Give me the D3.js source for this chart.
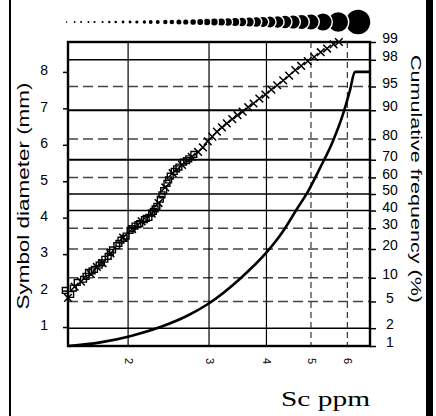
<!DOCTYPE html>
<html>
<head>
<meta charset="utf-8">
<script src="https://cdn.jsdelivr.net/npm/d3@7"></script>
<style>
  body { margin: 0; background: #fff; }
  svg { display: block; }
</style>
</head>
<body>
<svg width="436" height="416"></svg>
<script>
//--Data
// x axis (Sc ppm, log) and the two y axes
var scTicks = [2, 3, 4, 5, 6];
var diamTicks = [1, 2, 3, 4, 5, 6, 7, 8];
var cumTicks = [1, 2, 5, 10, 20, 30, 40, 50, 60, 70, 80, 90, 95, 98, 99];

// cumulative frequency plot, square markers
var scSquares = [1.46, 1.50, 1.52, 1.55, 1.60, 1.62, 1.64, 1.67, 1.69, 1.73, 1.75, 1.78, 1.81, 1.83, 1.85,
  1.89, 1.91, 1.93, 1.96, 1.98, 2.02, 2.04, 2.07, 2.10, 2.12, 2.17, 2.19, 2.22, 2.25, 2.27,
  2.29, 2.31, 2.35, 2.37, 2.39, 2.43, 2.45, 2.47, 2.52, 2.55, 2.58, 2.64, 2.68, 2.71, 2.78];
var cumSquares = [7.0, 6.2, 7.5, 8.8, 9.6, 10.4, 11.5, 12.0, 12.4, 13.8, 14.6, 15.9, 17.0, 18.6, 19.6,
  21.5, 22.5, 24.0, 24.8, 26.0, 28.9, 29.8, 31.2, 32.0, 32.5, 34.8, 35.5, 36.0, 38.5, 39.5,
  41.0, 42.5, 46.8, 49.5, 52.0, 56.5, 58.5, 60.8, 63.5, 65.0, 66.0, 68.7, 69.5, 70.5, 72.8];

// cumulative frequency plot, cross markers
var scCrosses = [1.48, 1.53, 1.58, 1.66, 1.71, 1.76, 1.83, 1.95, 2.04, 2.14, 2.25, 2.33, 2.41, 2.50, 2.62,
  2.75, 2.84, 2.91, 2.98, 3.05, 3.12, 3.20, 3.28, 3.37, 3.46, 3.55, 3.65, 3.75, 3.86, 3.98,
  4.10, 4.22, 4.35, 4.48, 4.62, 4.76, 4.92, 5.08, 5.25, 5.42, 5.60, 5.75];
var cumCrosses = [5.6, 7.8, 9.0, 11.0, 13.2, 14.5, 18.2, 25.2, 29.5, 33.8, 38.2, 44.5, 54.0, 62.5, 67.2,
  71.5, 74.0, 76.2, 79.0, 81.0, 83.0, 84.6, 86.0, 87.4, 88.6, 89.6, 90.8, 91.7, 92.8, 93.6,
  94.5, 95.2, 95.9, 96.5, 97.1, 97.5, 97.9, 98.2, 98.5, 98.7, 98.9, 99.0];

// symbol diameter function (left axis)
var curveSc = [1.48, 1.74, 2.02, 2.35, 2.69, 2.99, 3.50, 4.01, 4.32, 4.66, 4.93, 5.23, 5.58, 5.87, 6.08, 6.23, 6.72];
var curveDiam = [0.48, 0.58, 0.75, 1.00, 1.31, 1.64, 2.32, 3.06, 3.58, 4.24, 4.73, 5.36, 6.10, 6.84, 7.50, 8.0, 8.0];

// symbol size key along the top
var keySc = [1.47, 1.53, 1.58, 1.64, 1.69, 1.76, 1.82, 1.88, 1.95, 2.02, 2.09, 2.17, 2.24, 2.32, 2.41,
  2.49, 2.58, 2.67, 2.77, 2.87, 2.97, 3.08, 3.19, 3.30, 3.42, 3.54, 3.67, 3.80, 3.93, 4.07,
  4.23, 4.39, 4.57, 4.77, 5.00, 5.31, 5.73, 6.33];
var keyDiam = [0.52, 0.59, 0.66, 0.66, 0.72, 0.72, 0.79, 0.85, 0.92, 0.98, 1.05, 1.11, 1.25, 1.31, 1.44,
  1.51, 1.64, 1.70, 1.84, 1.97, 2.10, 2.23, 2.36, 2.49, 2.62, 2.75, 2.95, 3.15, 3.34, 3.54,
  3.80, 4.07, 4.33, 4.59, 4.98, 5.64, 6.43, 8.0];

//--Helpers
// inverse normal cdf (Acklam), for the probability axis
function probit(p) {
  var a = [-3.969683028665376e+01, 2.209460984245205e+02, -2.759285104469687e+02, 1.383577518672690e+02, -3.066479806614716e+01, 2.506628277459239e+00];
  var b = [-5.447609879822406e+01, 1.615858368580409e+02, -1.556989798598866e+02, 6.680131188771972e+01, -1.328068155288572e+01];
  var c = [-7.784894002430293e-03, -3.223964580411365e-01, -2.400758277161838e+00, -2.549732539343734e+00, 4.374664141464968e+00, 2.938163982698783e+00];
  var d = [7.784695709041462e-03, 3.224671290700398e-01, 2.445134137142996e+00, 3.754408661907416e+00];
  var pl = 0.02425, q, r;
  if (p < pl) {
    q = Math.sqrt(-2 * Math.log(p));
    return (((((c[0] * q + c[1]) * q + c[2]) * q + c[3]) * q + c[4]) * q + c[5]) / ((((d[0] * q + d[1]) * q + d[2]) * q + d[3]) * q + 1);
  }
  if (p > 1 - pl) {
    q = Math.sqrt(-2 * Math.log(1 - p));
    return -(((((c[0] * q + c[1]) * q + c[2]) * q + c[3]) * q + c[4]) * q + c[5]) / ((((d[0] * q + d[1]) * q + d[2]) * q + d[3]) * q + 1);
  }
  q = p - 0.5; r = q * q;
  return (((((a[0] * r + a[1]) * r + a[2]) * r + a[3]) * r + a[4]) * r + a[5]) * q / (((((b[0] * r + b[1]) * r + b[2]) * r + b[3]) * r + b[4]) * r + 1);
}

//--Layout and scales
var frame = { left: 68, right: 370, top: 42, bottom: 346 };

var x = d3.scaleLog().domain([1.48, 6.72]).range([frame.left, frame.right]);
var yDiam = d3.scaleLinear().domain([0.48, 8.82]).range([frame.bottom, frame.top]);
var yZ = d3.scaleLinear().domain([probit(0.01), probit(0.99)]).range([frame.bottom, frame.top]);
var yCum = p => yZ(probit(p / 100));
var keyR = d3.scaleLinear().domain([0, 8]).range([0, 12.2]);

var solidCum = new Set([98, 90, 70, 50, 40, 2]);
var solidSc = new Set([2, 3, 4]);

var root = d3.select("svg");

// scan borders
root.append("line")
  .attr("x1", 10).attr("x2", 10).attr("y1", 0).attr("y2", 416)
  .attr("stroke", "#000").attr("stroke-width", 2);
root.append("rect")
  .attr("x", 426).attr("y", 0).attr("width", 7).attr("height", 416)
  .attr("fill", "#000");

//--Grid
var grid = root.append("g").classed("grid", true);
grid.selectAll("line.h")
  .data(cumTicks.filter(p => p > 1 && p < 99))
  .enter()
  .append("line")
  .classed("h", true)
  .attr("x1", frame.left)
  .attr("x2", frame.right)
  .attr("y1", d => yCum(d))
  .attr("y2", d => yCum(d))
  .attr("stroke", d => solidCum.has(d) ? "#000" : "#444")
  .attr("stroke-width", d => (d === 90 || d === 70) ? 2 : 1.5)
  .attr("stroke-dasharray", d => solidCum.has(d) ? null : "10,5");
grid.selectAll("line.v")
  .data(scTicks)
  .enter()
  .append("line")
  .classed("v", true)
  .attr("x1", d => x(d))
  .attr("x2", d => x(d))
  .attr("y1", frame.top)
  .attr("y2", frame.bottom)
  .attr("stroke", d => solidSc.has(d) ? "#000" : "#333")
  .attr("stroke-width", 1.2)
  .attr("stroke-dasharray", d => solidSc.has(d) ? null : "6,4");

//--Scatter (cumulative frequency)
var pts = root.append("g").classed("scatter-plot", true);
pts.selectAll("path.sq")
  .data(d3.zip(scSquares, cumSquares))
  .enter()
  .append("path")
  .classed("sq", true)
  .attr("d", d3.symbol(d3.symbolSquare, 34))
  .attr("transform", d => `translate(${x(d[0])},${yCum(d[1])})`)
  .attr("fill", "none")
  .attr("stroke", "#000")
  .attr("stroke-width", 1.4);
pts.selectAll("path.cx")
  .data(d3.zip(scCrosses, cumCrosses))
  .enter()
  .append("path")
  .classed("cx", true)
  .attr("d", d3.symbol(d3.symbolX, 40))
  .attr("transform", d => `translate(${x(d[0])},${yCum(d[1])})`)
  .attr("fill", "none")
  .attr("stroke", "#000")
  .attr("stroke-width", 1.5);

//--Diameter curve
root.append("path")
  .datum(d3.zip(curveSc, curveDiam))
  .attr("d", d3.line().x(d => x(d[0])).y(d => yDiam(d[1])).curve(d3.curveMonotoneX))
  .attr("fill", "none")
  .attr("stroke", "#000")
  .attr("stroke-width", 2.6);

//--Frame
root.append("rect")
  .attr("x", frame.left)
  .attr("y", frame.top)
  .attr("width", frame.right - frame.left)
  .attr("height", frame.bottom - frame.top)
  .attr("fill", "none")
  .attr("stroke", "#000")
  .attr("stroke-width", 2.4);

//--Axes
var axisFont = "'Liberation Sans', Arial, sans-serif";

var leftAxis = root.append("g")
  .attr("transform", `translate(${frame.left},0)`)
  .call(d3.axisLeft(yDiam).tickValues(diamTicks).tickSize(5).tickPadding(15).tickFormat(d3.format("d")));
leftAxis.select(".domain").remove();
leftAxis.selectAll("line").attr("stroke-width", 1.5);
leftAxis.selectAll("text")
  .attr("dy", "0.2em")
  .style("font-family", axisFont)
  .style("font-size", "14px")
  .attr("fill", "#000");

var rightAxis = root.append("g")
  .attr("transform", `translate(${frame.right},0)`)
  .call(d3.axisRight(yZ)
    .tickValues(cumTicks.map(p => probit(p / 100)))
    .tickFormat((z, i) => cumTicks[i])
    .tickSize(6));
rightAxis.select(".domain").remove();
rightAxis.selectAll("line").attr("stroke-width", 1.5);
rightAxis.selectAll("text")
  .attr("x", 20)
  .attr("dy", "0.05em")
  .style("text-anchor", "middle")
  .style("font-family", axisFont)
  .style("font-size", "14px")
  .attr("fill", "#000");

var bottomAxis = root.append("g")
  .attr("transform", `translate(0,${frame.bottom})`)
  .call(d3.axisBottom(x).tickValues(scTicks).tickSize(0).tickFormat(d3.format("d")));
bottomAxis.select(".domain").remove();
bottomAxis.selectAll("text")
  .attr("y", 0)
  .attr("dy", "0.35em")
  .attr("transform", "translate(0,15) rotate(90)")
  .style("text-anchor", "middle")
  .style("font-family", axisFont)
  .style("font-size", "11px")
  .attr("fill", "#000");

//--Titles
root.append("text")
  .attr("transform", "translate(29,196) rotate(-90)")
  .attr("text-anchor", "middle")
  .attr("textLength", 227)
  .attr("lengthAdjust", "spacingAndGlyphs")
  .style("font-family", axisFont)
  .style("font-size", "16px")
  .text("Symbol diameter (mm)");
root.append("text")
  .attr("transform", "translate(411,179) rotate(90)")
  .attr("text-anchor", "middle")
  .attr("textLength", 248)
  .attr("lengthAdjust", "spacingAndGlyphs")
  .style("font-family", axisFont)
  .style("font-size", "15px")
  .text("Cumulative frequency (%)");
root.append("text")
  .attr("x", 281)
  .attr("y", 406)
  .attr("textLength", 89)
  .attr("lengthAdjust", "spacingAndGlyphs")
  .style("font-family", "'Liberation Serif', 'Times New Roman', serif")
  .style("font-size", "21px")
  .text("Sc ppm");

//--Symbol size key (largest drawn first so each smaller one overlaps it)
var keyData = d3.zip(keySc, keyDiam).reverse();
var key = root.append("g").classed("symbol-key", true);
keyData.forEach(d => {
  key.append("circle")
    .attr("cx", x(d[0])).attr("cy", 22)
    .attr("r", keyR(d[1]) + 1.4)
    .attr("fill", "#fff");
  key.append("circle")
    .attr("cx", x(d[0])).attr("cy", 22)
    .attr("r", keyR(d[1]))
    .attr("fill", "#000");
});
</script>
</body>
</html>
